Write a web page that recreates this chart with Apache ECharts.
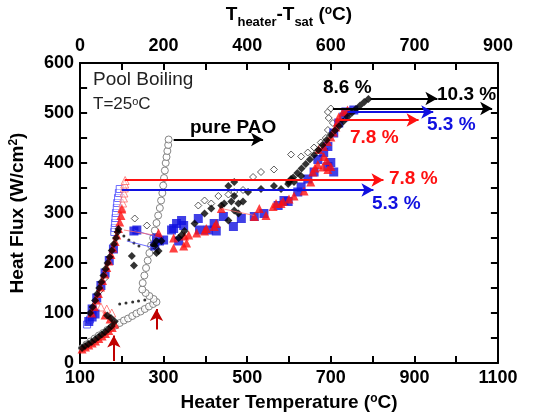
<!DOCTYPE html>
<html>
<head>
<meta charset="utf-8">
<script src="https://cdn.jsdelivr.net/npm/echarts@6/dist/echarts.min.js"></script>
<style>
  html,body{margin:0;padding:0;background:#fff;}
  #main{width:536px;height:417px;}
</style>
</head>
<body>
<div id="main"></div>
<script>
// tick labels
var bottomTicks = [100, 300, 500, 700, 900, 1100];
var topTickText = ['0', '200', '400', '600', '700', '900'];
var xTickVals = [100, 200, 300, 400, 500, 600, 700, 800, 900, 1000, 1100];
var yTickVals = [0, 50, 100, 150, 200, 250, 300, 350, 400, 450, 500, 550, 600];

// pure PAO (open circles) [heater temperature, heat flux]
var paoPts = [[105,30],[115,37],[125,43],[135,49],[145,55],[155,60],[165,66],[175,71],
  [185,75],[195,80],[205,85],[215,89],[225,94],[235,99],[245,103],[255,108],[265,113],[275,118],[283,122],
  [276,128],[266,134],[257,140],[249,147],
  [250,160],[254,175],[258,190],[262,205],[266,220],[270,235],[275,250],[279,265],[283,280],[287,295],
  [291,310],[294,325],[297,340],[299,355],[301,370],[303,385],[305,400],[307,412],[309,424],[311,436],[312,447]];

// 5.3 % open squares (before CHF)
var blueOpen = [[117,77],[124,87],[182,262],[183,270],[184,280],[185,290],[186,300],[188,310],[189,320],
  [191,330],[193,340],[195,348]];
// 5.3 % filled squares
var bluePts = [[121,83],[129,92],[136,98],[129,108],[140,130],[150,155],[160,180],[170,205],[180,228],
  [229,264],[236,266],[283,250],[290,244],[324,269],[279,234],
  [319,266],[331,279],[343,285],[348,275],[336,244],[300,246],[383,289],[386,266],[407,266],[426,264],
  [421,279],[443,293],[467,273],[486,289],[517,293],[540,299],[574,315],[598,323],
  [588,325],[621,342],[629,352],[645,368],[660,382],[669,407],[693,393],[707,382],[700,401],[683,421],
  [693,433],[707,460],[719,480],[731,492],[736,502],[755,506]];

// 7.8 % open triangles
var redOpen = [[150,112],[164,108],[176,100],[200,310],[202,320],[204,330],[205,340],[206,350],[207,358],[208,365]];
// 7.8 % filled triangles
var redPts = [[105,28],[113,32],[121,36],[129,40],[137,44],[145,49],[153,54],[161,59],[169,65],[177,71],[183,78],
  [172,88],[160,96],
  [128,100],[134,113],[139,126],[144,139],[149,152],[154,165],[159,178],[164,191],[169,204],[174,217],
  [179,230],[184,243],[188,256],[192,269],[195,282],[198,295],[200,308],
  [324,230],[348,234],[355,240],[360,256],[379,260],[398,264],[402,269],[421,273],[426,279],[438,309],
  [324,250],[288,260],[350,254],
  [517,293],[529,309],[545,295],[562,313],[569,319],[586,323],[600,328],
  [581,319],[612,334],[636,344],[652,362],[657,382],[662,390],[669,397],[681,392],[693,387],[700,393],
  [690,405],[683,413],[671,427],[683,433],[692,443],[700,452],[706,462],[712,472],[716,482],[719,492],
  [729,502],[740,506]];

// 8.6 % filled diamonds
var blackPts = [[105,30],[112,34],[120,38],[128,42],[136,47],[144,52],[152,57],[160,62],[168,68],[176,74],[183,83],
  [174,90],[165,95],
  [124,100],[130,112],[136,125],[141,138],[146,150],[151,162],[156,175],[161,188],[166,200],[171,212],
  [176,225],[181,238],[186,250],[190,262],[192,268],
  [224,214],[229,195],[279,234],[283,244],[288,224],
  [276,236],[283,220],[295,244],[336,250],[343,256],[350,264],[374,279],[398,299],[414,309],[445,319],
  [462,323],[479,319],[490,323],[479,299],[455,285],[469,305],
  [438,315],[469,334],[502,342],[533,348],[564,354],[605,368],[629,374],[455,354],[469,362],
  [581,348],[598,358],[612,362],
  [600,362],[610,371],[620,380],[630,389],[640,398],[650,407],[660,416],[670,426],[680,436],[690,446],
  [700,456],[710,465],[720,474],[730,483],[740,492],[750,500],[760,508],[770,515],[780,522],[790,528]];

// 10.3 % open diamonds
var openDiam = [[148,145],[160,170],[231,289],[260,275],[383,315],[398,325],[431,334],[469,342],
  [414,319],[455,337],[490,346],[514,372],[533,382],[564,387],[605,417],[629,413],[645,421],[660,431],
  [676,441],[688,450],[693,466],[705,480],[695,490],[693,502],[700,509]];
// dotted small points
var dotPts = [[195,118],[210,120],[226,122],[240,124],[255,126],[193,264],[205,254],[217,246],[229,240],[241,234]];

// thin connecting lines
var blueThin1 = [[229,266],[290,250]];
var blueThin2 = [[212,244],[279,230]];
var redThin1 = [[205,266],[276,256]];
var redThin2 = [[438,309],[517,295]];

var FONT = 'Liberation Sans, Arial, sans-serif';
// inward tick length, in axis units (about 7 px)
var X_TICK = 14, Y_TICK = 17;

(function(){
  draw_chart();
})();

function axisLine(){
  return {show:true, onZero:false, lineStyle:{color:'#000', width:2}};
}
function axisTick(){
  return {show:true, inside:true, length:7, lineStyle:{color:'#000', width:2}};
}

// frame ticks as short segments on all four sides
function frameTicks(){
  var list = [];
  xTickVals.forEach(function(v){
    list.push([{coord:[v, 0]}, {coord:[v, X_TICK]}]);
    list.push([{coord:[v, 600]}, {coord:[v, 600 - X_TICK]}]);
  });
  yTickVals.forEach(function(v){
    list.push([{coord:[100, v]}, {coord:[100 + Y_TICK, v]}]);
    list.push([{coord:[1100, v]}, {coord:[1100 - Y_TICK, v]}]);
  });
  return {silent:true, symbol:['none','none'], label:{show:false},
    lineStyle:{type:'solid', color:'#000', width:2}, data:list};
}

function draw_chart(){
  var chart = echarts.init(document.getElementById('main'));
  var tickFont = {color:'#000', fontSize:18, fontWeight:'bold', fontFamily:FONT};
  var nameRich = {
    a:{fontSize:19, fontWeight:'bold', fontFamily:FONT, color:'#000', lineHeight:24, verticalAlign:'top'},
    s:{fontSize:12, fontWeight:'bold', fontFamily:FONT, color:'#000', lineHeight:10, verticalAlign:'top'},
    b:{fontSize:13, fontWeight:'bold', fontFamily:FONT, color:'#000', lineHeight:13, verticalAlign:'bottom'}
  };

  function arrow(x1, x2, y, color){
    return [{coord:[x1, y], lineStyle:{color:color, width:2, type:'solid'}}, {coord:[x2, y]}];
  }
  function mline(list){
    return {silent:true, symbol:['none','arrow'], symbolSize:[10,12], label:{show:false},
      lineStyle:{type:'solid', width:2}, data:list};
  }

  var option = {
    animation:false,
    grid:{left:78, right:38, top:62, bottom:50},
    xAxis:[
      {
        type:'value', min:100, max:1100, interval:100, position:'bottom',
        axisLine:axisLine(), axisTick:axisTick(), splitLine:{show:false},
        axisLabel:Object.assign({margin:6, formatter:function(v){ return bottomTicks.indexOf(v) >= 0 ? String(v) : ''; }}, tickFont),
        name:'{a|Heater Temperature (}{s|o}{a|C)}', nameLocation:'middle', nameGap:30,
        nameTextStyle:{rich:nameRich}
      },
      {
        type:'value', min:100, max:1100, interval:100, position:'top',
        axisLine:axisLine(), axisTick:axisTick(), splitLine:{show:false},
        axisLabel:Object.assign({margin:8, formatter:function(v){
          var i = bottomTicks.indexOf(v); return i >= 0 ? topTickText[i] : ''; }}, tickFont),
        name:'{a|T}{b|heater}{a|-T}{b|sat}{a| (}{s|o}{a|C)}', nameLocation:'middle', nameGap:34,
        nameTextStyle:{rich:nameRich}
      }
    ],
    yAxis:[
      {
        type:'value', min:0, max:600, interval:50, position:'left',
        axisLine:axisLine(), axisTick:axisTick(), splitLine:{show:false},
        axisLabel:Object.assign({margin:6, formatter:function(v){ return v % 100 === 0 ? String(v) : ''; }}, tickFont),
        name:'{a|Heat Flux (W/cm}{s|2}{a|)}', nameLocation:'middle', nameGap:48,
        nameTextStyle:{rich:nameRich}
      },
      {
        type:'value', min:0, max:600, interval:50, position:'right',
        axisLine:axisLine(), axisTick:axisTick(), splitLine:{show:false}, axisLabel:{show:false}
      }
    ],
    series:[
      {
        name:'pure PAO', type:'scatter', data:paoPts, symbol:'circle', symbolSize:7,
        itemStyle:{color:'#fff', borderColor:'#666', borderWidth:1},
        markLine:mline([
          arrow(324, 538, 447, '#000'),
          [{coord:[181, 4], lineStyle:{color:'#c00000', width:2, type:'solid'}}, {coord:[181, 55]}],
          [{coord:[283, 67], lineStyle:{color:'#c00000', width:2, type:'solid'}}, {coord:[283, 108]}]
        ])
      },
      {
        name:'10.3 %', type:'scatter', data:openDiam, symbol:'diamond', symbolSize:7,
        itemStyle:{color:'#fff', borderColor:'#333', borderWidth:1},
        markLine:mline([arrow(705, 1086, 509, '#000'), arrow(795, 955, 529, '#000')])
      },
      {
        name:'dots', type:'scatter', data:dotPts, symbol:'circle', symbolSize:3,
        itemStyle:{color:'#000'},
        markLine:frameTicks()
      },
      {type:'line', data:blueThin1, symbol:'none', lineStyle:{color:'#4a4aff', width:0.8}},
      {type:'line', data:blueThin2, symbol:'none', lineStyle:{color:'#4a4aff', width:0.8}},
      {type:'line', data:redThin1, symbol:'none', lineStyle:{color:'#ff6a6a', width:0.8}},
      {type:'line', data:redThin2, symbol:'none', lineStyle:{color:'#ff6a6a', width:0.8}},
      {
        name:'5.3 % open', type:'scatter', data:blueOpen, symbol:'rect', symbolSize:7,
        itemStyle:{color:'rgba(255,255,255,0.6)', borderColor:'#4a4aff', borderWidth:1}
      },
      {
        name:'7.8 % open', type:'scatter', data:redOpen, symbol:'triangle', symbolSize:8,
        itemStyle:{color:'rgba(255,255,255,0.6)', borderColor:'#ff6a6a', borderWidth:1}
      },
      {
        name:'5.3 %', type:'scatter', data:bluePts, symbol:'rect', symbolSize:9,
        itemStyle:{color:'#1010e0'},
        markLine:mline([arrow(200, 802, 346, '#1010e0'), arrow(740, 945, 502, '#1010e0')])
      },
      {
        name:'7.8 %', type:'scatter', data:redPts, symbol:'triangle', symbolSize:9,
        itemStyle:{color:'#ff1010'},
        markLine:mline([arrow(207, 826, 366, '#ff1010'), arrow(719, 910, 486, '#ff1010')])
      },
      {
        name:'8.6 %', type:'scatter', data:blackPts, symbol:'diamond', symbolSize:8,
        itemStyle:{color:'#000'}
      }
    ],
    graphic:[
      {type:'text', left:93, top:70, style:{text:'Pool Boiling', font:'19px ' + FONT, fill:'#222'}},
      {type:'text', left:93, top:96, style:{text:'{a|T=25}{s|o}{a|C}', rich:{
        a:{fontSize:17, fontFamily:FONT, fill:'#222', lineHeight:20, verticalAlign:'top'},
        s:{fontSize:11, fontFamily:FONT, fill:'#222', lineHeight:11, verticalAlign:'top'}}}},
      {type:'text', left:190, top:118, style:{text:'pure PAO', font:'bold 19px ' + FONT, fill:'#000'}},
      {type:'text', left:323, top:78, style:{text:'8.6 %', font:'bold 19px ' + FONT, fill:'#000'}},
      {type:'text', left:437, top:85, style:{text:'10.3 %', font:'bold 19px ' + FONT, fill:'#000'}},
      {type:'text', left:427, top:115, style:{text:'5.3 %', font:'bold 19px ' + FONT, fill:'#1010e0'}},
      {type:'text', left:350, top:128, style:{text:'7.8 %', font:'bold 19px ' + FONT, fill:'#ff1010'}},
      {type:'text', left:389, top:169, style:{text:'7.8 %', font:'bold 19px ' + FONT, fill:'#ff1010'}},
      {type:'text', left:372, top:194, style:{text:'5.3 %', font:'bold 19px ' + FONT, fill:'#1010e0'}}
    ]
  };
  chart.setOption(option);
}
</script>
</body>
</html>
